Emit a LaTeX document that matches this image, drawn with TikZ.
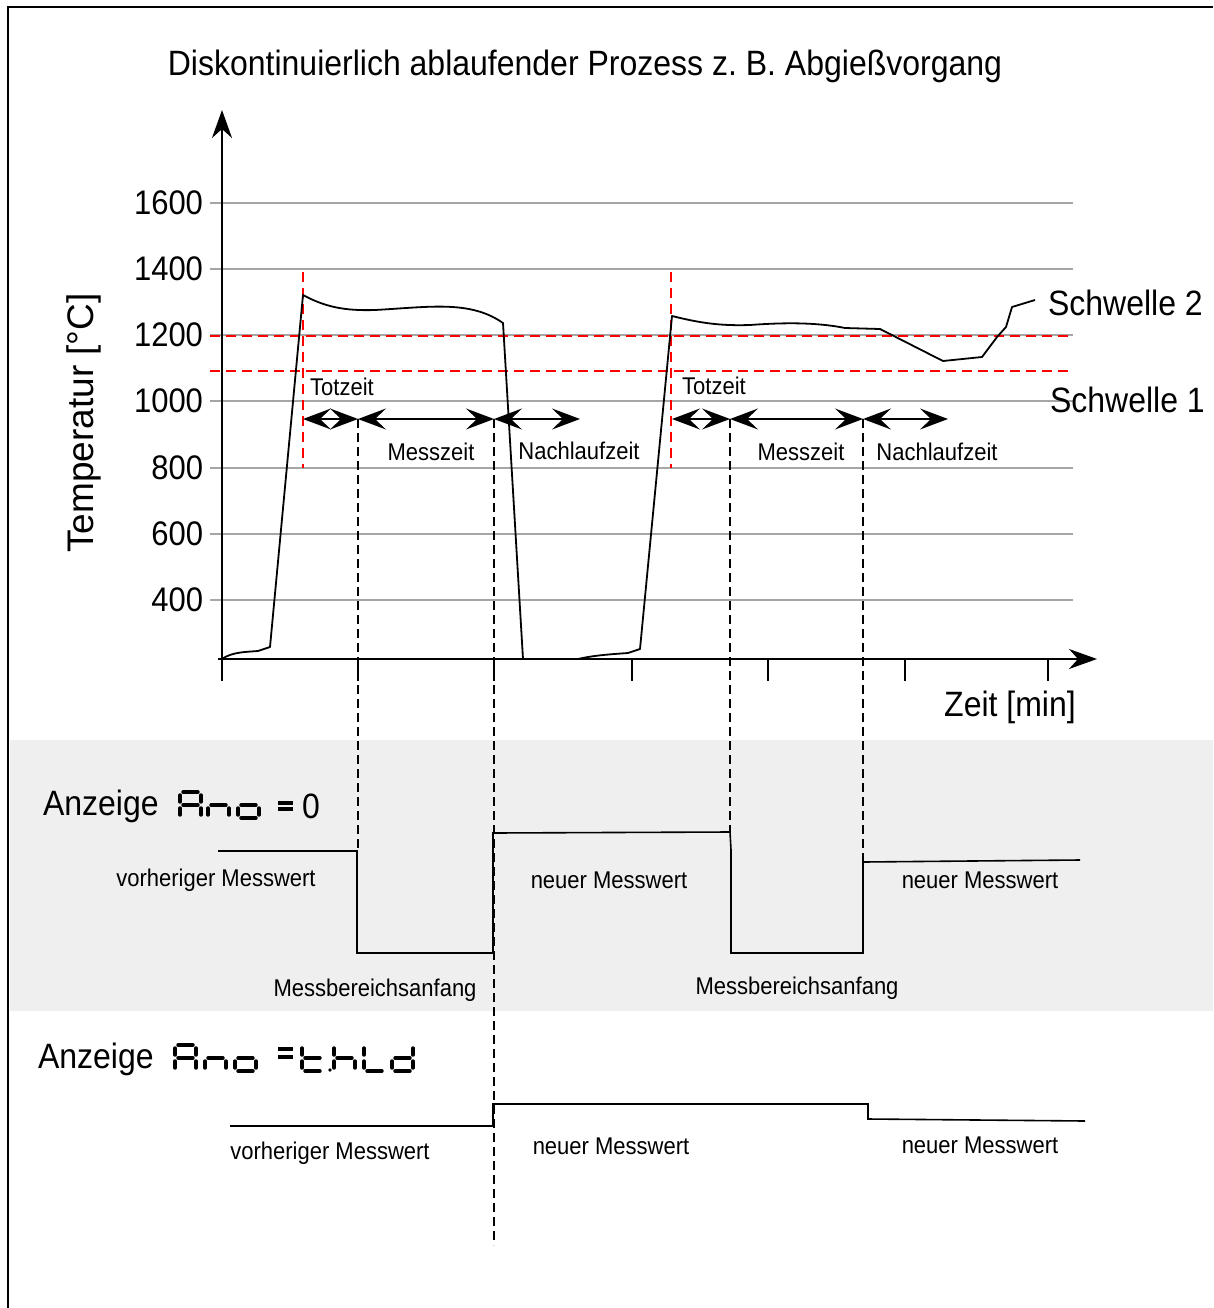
\documentclass[tikz,border=0pt]{standalone}
\usepackage{fontspec}
\setmainfont{Liberation Sans}
\usetikzlibrary{arrows.meta}

\newcommand\fsz[1]{\fontsize{#1}{#1}\selectfont}
\newcommand\tall[1]{\scalebox{1}[1.1]{#1}}
\definecolor{bandgray}{RGB}{239,239,239}

\tikzset{
  gridline/.style={draw=gray!70, line width=1.6pt},
  thrline/.style={draw=red, line width=1.6pt, dash pattern=on 10pt off 6pt},
  markline/.style={draw=black, line width=1.3pt, dash pattern=on 9pt off 5pt},
  axisline/.style={draw=black, line width=2pt},
  curveline/.style={draw=black, line width=1.8pt, line join=round},
  sigline/.style={draw=black, line width=1.6pt},
  segline/.style={draw=black, line width=3.4pt, line cap=round},
  spanarrow/.style={line width=1.6pt, {Stealth[length=28pt,width=21pt,inset=11pt]}-{Stealth[length=28pt,width=21pt,inset=11pt]}},
  small/.style={font=\fsz{22}},
  big/.style={font=\fsz{32}},
  % seven segment letters, origin top left, 21 x 26
  sevA/.pic={\draw[segline] (3,0) -- (18,0) (0,3) -- (0,10) (0,16) -- (0,23) (21,3) -- (21,10) (21,16) -- (21,23) (3,13) -- (18,13);},
  sevn/.pic={\draw[segline] (3,13) -- (18,13) (0,16) -- (0,23) (21,16) -- (21,23);},
  sevo/.pic={\draw[segline] (3,13) -- (18,13) (0,16) -- (0,23) (21,16) -- (21,23) (3,26) -- (18,26);},
  sevt/.pic={\draw[segline] (0,3) -- (0,10) (0,16) -- (0,23) (3,13) -- (18,13) (3,26) -- (18,26);},
  sevh/.pic={\draw[segline] (0,3) -- (0,10) (0,16) -- (0,23) (3,13) -- (18,13) (21,16) -- (21,23);},
  sevL/.pic={\draw[segline] (0,3) -- (0,10) (0,16) -- (0,23) (3,26) -- (18,26);},
  sevd/.pic={\draw[segline] (21,3) -- (21,10) (21,16) -- (21,23) (3,13) -- (18,13) (0,16) -- (0,23) (3,26) -- (18,26);}
}

\begin{document}
\frenchspacing
\begin{tikzpicture}[x=1pt, y=-1pt, every node/.style={inner sep=0pt, outer sep=0pt}]
\useasboundingbox (0,0) rectangle (1213,1308);

% background band and frame
\fill[bandgray] (10,740) rectangle (1213,1011);
\draw[line width=2.2pt] (8,1308) -- (8,7) -- (1213,7);

\node[big] (title) at (585,66) {\tall{Diskontinuierlich ablaufender Prozess z. B. Abgießvorgang}};

% grid and temperature scale
\foreach \y/\v in {203/1600, 269/1400, 335/1200, 401/1000, 468/800, 534/600, 600/400} {
  \draw[gridline] (210,\y) -- (1073,\y);
  \node[anchor=east, font=\fsz{31}] (tick\v) at (203,\y) {\tall{\v}};
}
\node[font=\fsz{37}, rotate=90] (ylabel) at (84,423) {Temperatur [°C]};

% thresholds
\draw[thrline] (210,336) -- (1073,336);
\draw[thrline] (210,371) -- (1073,371);
\draw[thrline] (303,272) -- (303,468);
\draw[thrline] (671,272) -- (671,468);
\node[big, anchor=west] (schw2) at (1048,303) {\tall{Schwelle 2}};
\node[big, anchor=west] (schw1) at (1050,400) {\tall{Schwelle 1}};

% axes
\draw[axisline, -{Stealth[length=28pt,width=20pt,inset=9pt]}] (222,659) -- (222,110);
\draw[axisline, -{Stealth[length=28pt,width=20pt,inset=9pt]}] (218,659) -- (1097,659);
\foreach \x in {222,358,494,632,768,905,1048}
  \draw[axisline] (\x,659) -- (\x,681);
\node[big] (xlabel) at (1010,707) {\tall{Zeit [min]}};

% temperature curves
\draw[curveline] (222,659) .. controls (232,652) and (245,652) .. (258,651) -- (270,647) -- (303,295)
  .. controls (325,307) and (345,311) .. (375,310) .. controls (430,307) and (470,300) .. (503,323) -- (523,659);
\draw[curveline] (578,659) .. controls (595,655) and (615,654) .. (628,653) -- (640,649) -- (672,316)
  .. controls (700,323) and (720,326) .. (750,325) .. controls (790,322) and (820,323) .. (845,328)
  -- (880,329) -- (943,361) -- (982,357) -- (997,337) -- (1006,327) -- (1012,307) -- (1035,300);

% time spans
\coordinate (ta) at (303,419);
\coordinate (ma) at (358,419);
\coordinate (na) at (494,419);
\coordinate (ea) at (580,419);
\coordinate (tb) at (672,419);
\coordinate (mb) at (730,419);
\coordinate (nb) at (863,419);
\coordinate (eb) at (948,419);
\draw[spanarrow] (ta) -- (ma);
\draw[spanarrow] (ma) -- (na);
\draw[spanarrow] (na) -- (ea);
\draw[spanarrow] (tb) -- (mb);
\draw[spanarrow] (mb) -- (nb);
\draw[spanarrow] (nb) -- (eb);
\node[small] (tot1) at (342,387) {\tall{Totzeit}};
\node[small] (mess1) at (431,452) {\tall{Messzeit}};
\node[small] (nach1) at (579,451) {\tall{Nachlaufzeit}};
\node[small] (tot2) at (714,386) {\tall{Totzeit}};
\node[small] (mess2) at (801,452) {\tall{Messzeit}};
\node[small] (nach2) at (937,452) {\tall{Nachlaufzeit}};

% marker lines
\draw[markline] (ma) -- ++(0,432);
\draw[markline] (na) -- ++(0,826);
\draw[markline] (mb) -- ++(0,414);
\draw[markline] (nb) -- ++(0,443);

% display Ano = 0
\node[big, anchor=base west] (anz1) at (43,815) {\tall{Anzeige}};
\pic at (180,792) {sevA};
\pic at (208,792) {sevn};
\pic at (238,792) {sevo};
\draw[line width=4pt] (278,803) -- (293,803) (278,809) -- (293,809);
\node[big, anchor=base west] (null1) at (302,818) {\tall{0}};
\draw[sigline] (218,851) -- (357,851) -- (357,953) -- (493,953) -- (493,833) -- (730,832) -- (731,850) -- (731,953) -- (863,953) -- (863,862) -- (1080,860);
\node[small] (vor1) at (216,880) {\tall{vorheriger Messwert}};
\node[small] (neu1) at (609,880) {\tall{neuer Messwert}};
\node[small] (neu2) at (980,880) {\tall{neuer Messwert}};
\node[small] (anf1) at (375,990) {\tall{Messbereichsanfang}};
\node[small] (anf2) at (797,988) {\tall{Messbereichsanfang}};

% display Ano = thLd
\node[big, anchor=base west] (anz2) at (38,1068) {\tall{Anzeige}};
\pic at (175,1045) {sevA};
\pic at (205,1045) {sevn};
\pic at (235,1045) {sevo};
\draw[line width=4pt] (278,1049) -- (293,1049) (278,1057) -- (293,1057);
\pic at (302,1045) {sevt};
\fill (330,1070) circle (1.8pt);
\pic at (334,1045) {sevh};
\pic at (364,1045) {sevL};
\pic at (392,1045) {sevd};
\draw[sigline] (230,1126) -- (493,1126) -- (493,1104) -- (868,1104) -- (868,1119) -- (1085,1121);
\node[small] (vor2) at (330,1153) {\tall{vorheriger Messwert}};
\node[small] (neu3) at (611,1146) {\tall{neuer Messwert}};
\node[small] (neu4) at (980,1145) {\tall{neuer Messwert}};
\end{tikzpicture}
\end{document}
